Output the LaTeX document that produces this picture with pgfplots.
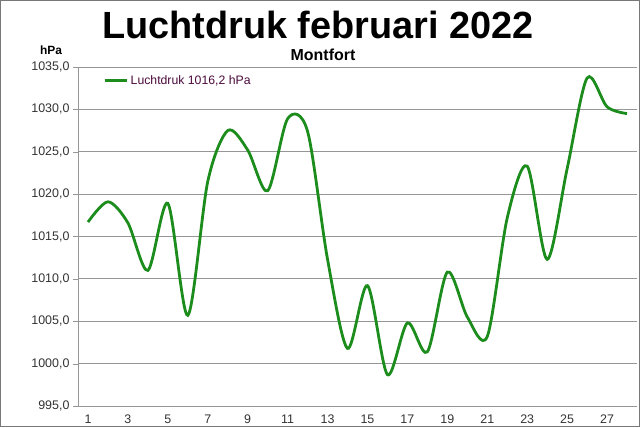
\documentclass[border=0pt]{standalone}
\usepackage{pgfplots}
\pgfplotsset{compat=1.18}
\usepackage{fontspec}
\setmainfont{Liberation Sans}
\definecolor{lgreen}{RGB}{28,140,28}
\definecolor{legtext}{RGB}{75,10,60}
\definecolor{gridc}{RGB}{150,150,150}
\definecolor{framec}{RGB}{120,120,120}
\begin{document}
\begin{tikzpicture}[x=1bp,y=1bp]
\useasboundingbox (0,0) rectangle (640,427);
\draw[framec, line width=1.2bp] (0.6,0.6) rectangle (639.4,426.4);
\node[font=\bfseries\fontsize{38}{40}\selectfont] at (318,402) {Luchtdruk februari 2022};
\node[font=\bfseries\fontsize{16}{18}\selectfont] at (323,372) {Montfort};
\node[font=\bfseries\fontsize{12}{14}\selectfont] at (51,377) {hPa};
\begin{axis}[
  at={(78bp,21bp)}, anchor=south west,
  scale only axis, width=559bp, height=339bp,
  xmin=0.5, xmax=28.5, ymin=995, ymax=1035,
  axis line style={gridc},
  axis x line*=bottom, axis y line*=left,
  ymajorgrids, grid style={gridc, line width=0.8bp},
  ytick={995,1000,...,1035},
  yticklabel style={/pgf/number format/.cd, fixed, fixed zerofill, precision=1, use comma, 1000 sep={}},
  /pgf/number format/assume math mode=true,
  xtick={1,3,...,27},
  major x tick style={draw=none},
  extra x ticks={1.5,2.5,...,28.5},
  extra x tick labels={},
  extra x tick style={major tick length=4bp, tick style={gridc}},
  tick align=outside,
  major tick length=5bp,
  tick style={gridc},
  ticklabel style={font=\fontsize{12.5}{14}\selectfont, text=black!80},
  legend style={draw=none, fill=none, at={(0.046,0.959)}, anchor=west, inner sep=0pt, font=\fontsize{12.3}{14}\selectfont, text=legtext},
  legend image code/.code={\draw[#1, line width=2.8bp] (0bp,0bp)--(22bp,0bp);},
  legend cell align=left,
]
\addplot[lgreen, line width=2.8bp, smooth, tension=0.5] coordinates {
(1,1016.7) (2,1019.1) (3,1016.6) (4,1011.0) (5,1018.9) (6,1005.7) (7,1021.5)
(8,1027.5) (9,1025.2) (10,1020.4) (11,1028.9) (12,1027.4) (13,1012.3) (14,1001.8)
(15,1009.2) (16,998.7) (17,1004.8) (18,1001.4) (19,1010.8) (20,1005.5) (21,1003.2)
(22,1017.2) (23,1023.3) (24,1012.3) (25,1023.0) (26,1033.7) (27,1030.3) (28,1029.5)
};
\addlegendentry{Luchtdruk 1016,2 hPa}
\end{axis}
\end{tikzpicture}
\end{document}
